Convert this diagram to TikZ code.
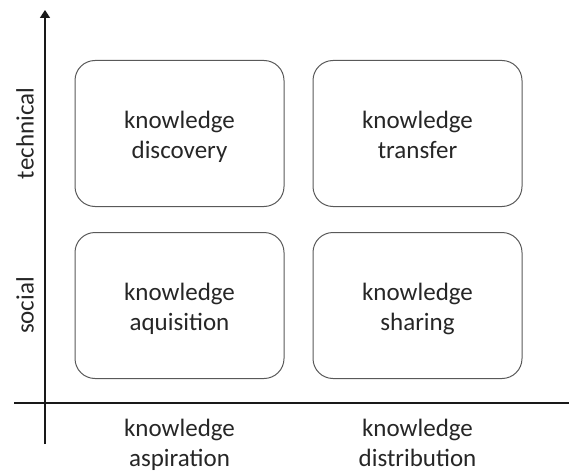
\documentclass[tikz,border=0pt]{standalone}
\usepackage{fontspec}
\setmainfont{Carlito}
\usepackage{tikz}
\usetikzlibrary{arrows.meta, positioning}

\begin{document}
\begin{tikzpicture}[
                    x=1pt, y=-1pt,
                    every node/.style={align=center, text=black!85, font=\fontsize{25}{30}\selectfont},
                    quadrant/.style={draw=black!65, line width=1pt, rounded corners=20pt,
                                     minimum width=209pt, minimum height=146pt,
                                     text height=56pt, text depth=6pt},
                    axis/.style={line width=1.6pt, black!90},
                    axislabel/.style={rotate=90},
                    bottomlabel/.style={text height=47.5pt, text depth=6pt}
                    ]
  \useasboundingbox (0,0) rectangle (569,473);

  % the four quadrants
  \node[quadrant] (discovery) at (179.5,133.5) {knowledge\\discovery};
  \node[quadrant] (transfer) at (417.5,133.5) {knowledge\\transfer};
  \node[quadrant] (aquisition) at (179.5,305.5) {knowledge\\aquisition};
  \node[quadrant] (sharing) at (417.5,305.5) {knowledge\\sharing};

  % axes
  \coordinate (ybottom) at (45,444);
  \coordinate (ytop) at (45,10);
  \coordinate (xleft) at (14,403);
  \coordinate (xright) at (569,403);
  \draw[axis, -{Triangle[width=10pt,length=8pt]}] (ybottom) -- (ytop);
  \draw[axis] (xleft) -- (xright);

  % axis labels
  \node[axislabel] (technical) at (25,133.5) {technical};
  \node[axislabel] (social) at (25,305.5) {social};
  \node[bottomlabel] (aspiration) at (179.5,446) {knowledge\\aspiration};
  \node[bottomlabel] (distribution) at (417.5,446) {knowledge\\distribution};
\end{tikzpicture}
\end{document}
